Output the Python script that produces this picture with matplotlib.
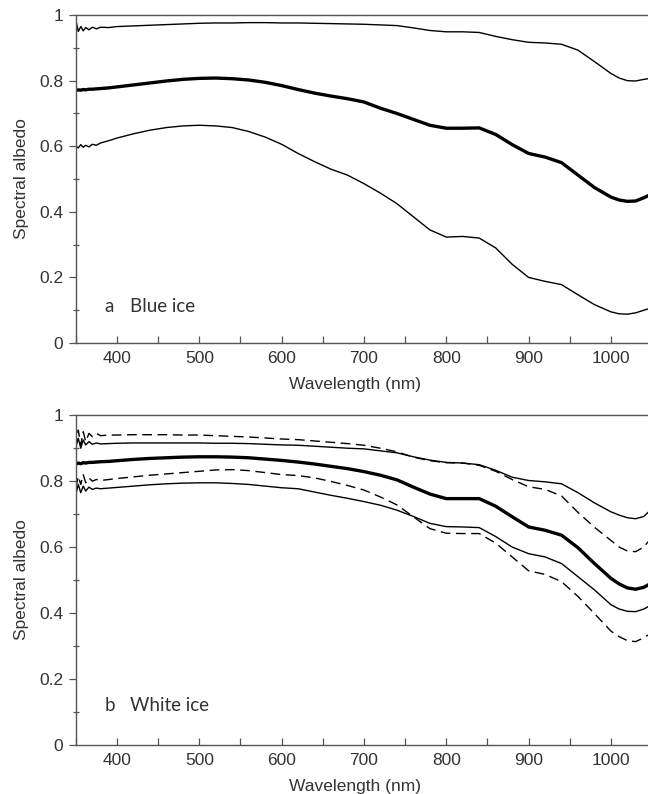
import matplotlib
matplotlib.use('Agg')
import matplotlib.pyplot as plt
from matplotlib.ticker import MultipleLocator

# wavelength grid (nm), denser at the noisy short-wave end
wl = [350, 353, 356, 359, 362, 366, 370, 375, 380, 390, 400,
      420, 440, 460, 480, 500, 520, 540, 560, 580, 600,
      620, 640, 660, 680, 700, 720, 740, 760, 780, 800,
      820, 840, 860, 880, 900, 920, 940, 960, 980, 1000,
      1010, 1020, 1030, 1040, 1045]

# (a) blue ice: max, mean, min
a_max = [0.985, 0.950, 0.965, 0.952, 0.962, 0.955, 0.963, 0.958, 0.963, 0.962, 0.965,
         0.967, 0.969, 0.971, 0.973, 0.975, 0.976, 0.976, 0.977, 0.977, 0.976,
         0.976, 0.975, 0.974, 0.973, 0.972, 0.970, 0.968, 0.961, 0.953, 0.949,
         0.949, 0.947, 0.935, 0.925, 0.917, 0.915, 0.911, 0.893, 0.858, 0.822,
         0.808, 0.800, 0.799, 0.804, 0.806]
a_mean = [0.770, 0.772, 0.771, 0.773, 0.772, 0.774, 0.774, 0.775, 0.776, 0.778, 0.781,
          0.787, 0.793, 0.799, 0.804, 0.807, 0.808, 0.806, 0.802, 0.795, 0.785,
          0.773, 0.762, 0.753, 0.745, 0.735, 0.716, 0.700, 0.682, 0.664, 0.655,
          0.655, 0.656, 0.636, 0.605, 0.578, 0.567, 0.550, 0.512, 0.474, 0.445,
          0.436, 0.432, 0.433, 0.443, 0.449]
a_min = [0.600, 0.595, 0.605, 0.597, 0.603, 0.598, 0.606, 0.603, 0.610, 0.617, 0.625,
         0.638, 0.649, 0.657, 0.662, 0.664, 0.662, 0.657, 0.645, 0.628, 0.606,
         0.578, 0.553, 0.530, 0.512, 0.486, 0.457, 0.425, 0.385, 0.345, 0.323,
         0.325, 0.320, 0.290, 0.240, 0.200, 0.188, 0.178, 0.147, 0.117, 0.095,
         0.089, 0.088, 0.092, 0.100, 0.104]

# (b) white ice: max/min of two sites (solid, dashed) and overall mean
b_max_d = [0.900, 0.955, 0.910, 0.950, 0.920, 0.945, 0.935, 0.945, 0.938, 0.940, 0.940,
           0.941, 0.941, 0.941, 0.940, 0.940, 0.938, 0.936, 0.934, 0.931, 0.928,
           0.926, 0.922, 0.918, 0.914, 0.909, 0.900, 0.889, 0.873, 0.862, 0.856,
           0.855, 0.848, 0.830, 0.805, 0.783, 0.775, 0.755, 0.705, 0.660, 0.620,
           0.600, 0.588, 0.586, 0.600, 0.616]
b_max_s = [0.905, 0.930, 0.900, 0.925, 0.910, 0.920, 0.912, 0.916, 0.913, 0.914, 0.915,
           0.916, 0.916, 0.916, 0.916, 0.916, 0.915, 0.915, 0.914, 0.912, 0.910,
           0.909, 0.906, 0.903, 0.900, 0.898, 0.892, 0.886, 0.874, 0.864, 0.857,
           0.855, 0.850, 0.833, 0.812, 0.802, 0.798, 0.792, 0.765, 0.734, 0.707,
           0.697, 0.689, 0.686, 0.693, 0.705]
b_mean = [0.852, 0.855, 0.853, 0.856, 0.855, 0.857, 0.857, 0.858, 0.859, 0.860, 0.862,
          0.866, 0.869, 0.871, 0.873, 0.874, 0.874, 0.873, 0.871, 0.867, 0.863,
          0.858, 0.852, 0.845, 0.838, 0.829, 0.818, 0.804, 0.782, 0.761, 0.747,
          0.747, 0.747, 0.724, 0.692, 0.661, 0.651, 0.636, 0.598, 0.550, 0.505,
          0.488, 0.476, 0.472, 0.478, 0.485]
b_min_d = [0.780, 0.815, 0.790, 0.820, 0.795, 0.810, 0.800, 0.805, 0.802, 0.805, 0.808,
           0.813, 0.818, 0.822, 0.826, 0.830, 0.834, 0.835, 0.832, 0.826, 0.820,
           0.817, 0.810, 0.799, 0.787, 0.773, 0.752, 0.728, 0.692, 0.656, 0.642,
           0.641, 0.641, 0.612, 0.570, 0.528, 0.517, 0.495, 0.450, 0.398, 0.345,
           0.328, 0.316, 0.313, 0.325, 0.333]
b_min_s = [0.760, 0.790, 0.765, 0.785, 0.770, 0.782, 0.775, 0.779, 0.777, 0.779, 0.781,
           0.785, 0.789, 0.792, 0.794, 0.795, 0.795, 0.793, 0.790, 0.785, 0.780,
           0.777, 0.767, 0.757, 0.748, 0.738, 0.727, 0.712, 0.693, 0.672, 0.662,
           0.661, 0.659, 0.632, 0.600, 0.580, 0.570, 0.550, 0.510, 0.470, 0.425,
           0.412, 0.405, 0.404, 0.412, 0.419]

y_ticks = [0, 0.2, 0.4, 0.6, 0.8, 1]
y_ticklabels = ['0', '0.2', '0.4', '0.6', '0.8', '1']
x_ticks = [400, 500, 600, 700, 800, 900, 1000]

text_color = '#333333'
plt.rcParams['font.family'] = ['Liberation Sans', 'DejaVu Sans']

fig = plt.figure(figsize=(6.48, 7.94), dpi=100)
ax_a = fig.add_axes([0.117, 0.568, 0.883, 0.413])
ax_b = fig.add_axes([0.117, 0.062, 0.883, 0.415])

thin = 1.0
thick = 2.4

ax_a.plot(wl, a_max, color='black', lw=thin)
ax_a.plot(wl, a_mean, color='black', lw=thick)
ax_a.plot(wl, a_min, color='black', lw=thin)

ax_b.plot(wl, b_max_d, color='black', lw=thin, ls=(0, (7, 4)))
ax_b.plot(wl, b_max_s, color='black', lw=thin)
ax_b.plot(wl, b_mean, color='black', lw=thick)
ax_b.plot(wl, b_min_d, color='black', lw=thin, ls=(0, (7, 4)))
ax_b.plot(wl, b_min_s, color='black', lw=thin)

labels = [('a', 'Blue ice', 0.11), ('b', 'White ice', 0.12)]
for ax, (letter, name, ty) in zip([ax_a, ax_b], labels):
    ax.set_xlim(350, 1045)
    ax.set_ylim(0, 1)
    ax.set_xticks(x_ticks)
    ax.xaxis.set_minor_locator(MultipleLocator(50))
    ax.set_yticks(y_ticks)
    ax.set_yticklabels(y_ticklabels)
    ax.yaxis.set_minor_locator(MultipleLocator(0.1))
    ax.tick_params(axis='x', which='both', direction='in', length=5, width=0.9,
                   colors='#555555', labelcolor=text_color, labelsize=12.5, pad=6)
    ax.tick_params(axis='y', which='major', direction='out', length=5, width=0.9,
                   colors='#555555', labelcolor=text_color, labelsize=12.5, pad=4)
    ax.tick_params(axis='y', which='minor', direction='inout', length=4, width=0.9,
                   colors='#555555')
    for side in ['left', 'bottom', 'top']:
        ax.spines[side].set_color('#555555')
        ax.spines[side].set_linewidth(1.0)
    ax.spines['right'].set_visible(False)
    ax.set_xlabel('Wavelength (nm)', fontsize=12.5, color=text_color, labelpad=8)
    ax.xaxis.set_label_coords(0.488, -0.105)
    ax.set_ylabel('Spectral albedo', fontsize=12.5, color=text_color, labelpad=7)
    ax.text(385, ty, letter, fontsize=13.5, color=text_color, family='Lato',
            va='center')
    ax.text(416, ty, name, fontsize=13.5, color=text_color, family='Lato',
            va='center')

fig.savefig('out.png', dpi=100)
